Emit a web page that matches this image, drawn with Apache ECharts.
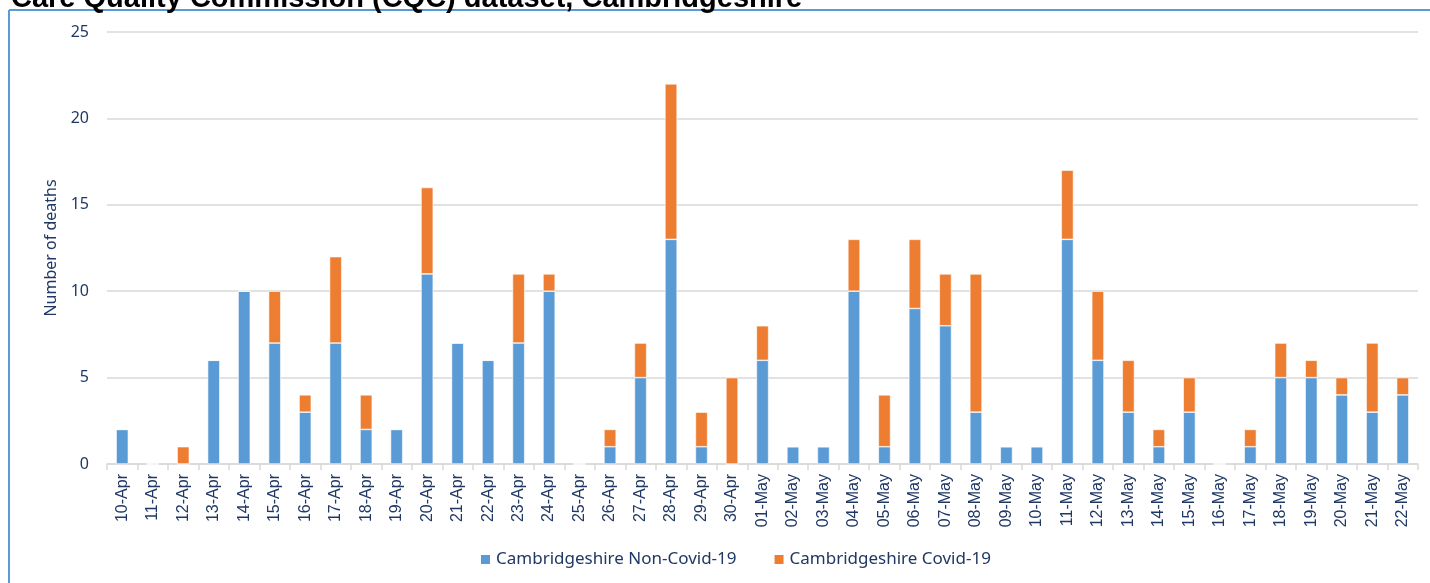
<!DOCTYPE html>
<html>
<head>
<meta charset="utf-8">
<script src="https://cdn.jsdelivr.net/npm/echarts@6/dist/echarts.min.js"></script>
<style>
  html, body { margin: 0; padding: 0; background: #fff; }
  #chart { width: 1430px; height: 583px; }
</style>
</head>
<body>
<div id="chart"></div>
<script>
// dates on the x axis
const days = [
    '10-Apr', '11-Apr', '12-Apr', '13-Apr', '14-Apr', '15-Apr', '16-Apr', '17-Apr', '18-Apr', '19-Apr',
    '20-Apr', '21-Apr', '22-Apr', '23-Apr', '24-Apr', '25-Apr', '26-Apr', '27-Apr', '28-Apr', '29-Apr',
    '30-Apr', '01-May', '02-May', '03-May', '04-May', '05-May', '06-May', '07-May', '08-May', '09-May',
    '10-May', '11-May', '12-May', '13-May', '14-May', '15-May', '16-May', '17-May', '18-May', '19-May',
    '20-May', '21-May', '22-May'
];

const nonCovid = [
    2, 0, 0, 6, 10, 7, 3, 7, 2, 2,
    11, 7, 6, 7, 10, 0, 1, 5, 13, 1,
    0, 6, 1, 1, 10, 1, 9, 8, 3, 1,
    1, 13, 6, 3, 1, 3, 0, 1, 5, 5,
    4, 3, 4
];

const covid = [
    0, 0, 1, 0, 0, 3, 1, 5, 2, 0,
    5, 0, 0, 4, 1, 0, 1, 2, 9, 2,
    5, 2, 0, 0, 3, 3, 4, 3, 8, 0,
    0, 4, 4, 3, 1, 2, 0, 1, 2, 1,
    1, 4, 1
];

const seriesNames = ['Cambridgeshire Non-Covid-19', 'Cambridgeshire Covid-19'];
const navy = '#1F3864';

let myChart = echarts.init(document.getElementById('chart'));
myChart.setOption({
    animation: false,
    title: {
        text: 'Care Quality Commission (CQC) dataset, Cambridgeshire',
        left: 6,
        top: -21,
        textStyle: { fontFamily: 'Liberation Sans', fontWeight: 'bold', fontSize: 29, color: '#000' }
    },
    graphic: [
        { type: 'line', shape: { x1: 9, y1: 10, x2: 1430, y2: 10 }, style: { stroke: '#5B9BD5', lineWidth: 2 } },
        { type: 'line', shape: { x1: 9, y1: 10, x2: 9, y2: 583 }, style: { stroke: '#5B9BD5', lineWidth: 2 } }
    ],
    grid: { left: 107, right: 12, top: 32, bottom: 119 },
    legend: {
        data: seriesNames,
        bottom: 10,
        left: 474,
        itemWidth: 11,
        itemHeight: 11,
        itemGap: 36,
        icon: 'rect',
        textStyle: { fontFamily: 'Noto Sans', fontSize: 17, color: navy }
    },
    xAxis: {
        type: 'category',
        data: days,
        axisLine: { lineStyle: { color: '#D9D9D9', width: 1.5 } },
        axisTick: { show: true, length: 6, lineStyle: { color: '#D9D9D9', width: 1.5 } },
        axisLabel: {
            rotate: 90,
            interval: 0,
            margin: 10,
            fontFamily: 'Liberation Sans',
            fontSize: 16,
            color: navy
        }
    },
    yAxis: {
        type: 'value',
        min: 0,
        max: 25,
        interval: 5,
        name: 'Number of deaths',
        nameLocation: 'middle',
        nameGap: 48,
        nameTextStyle: { fontFamily: 'Noto Sans', fontSize: 16, color: navy },
        axisLine: { show: false },
        axisTick: { show: false },
        axisLabel: { margin: 18, fontFamily: 'Noto Sans', fontSize: 16, color: navy },
        splitLine: { lineStyle: { color: '#D9D9D9', width: 1.5 } }
    },
    series: [
        {
            name: seriesNames[0],
            type: 'bar',
            stack: 'deaths',
            barWidth: '40%',
            data: nonCovid,
            itemStyle: { color: '#5B9BD5', borderColor: '#fff', borderWidth: 0.6 }
        },
        {
            name: seriesNames[1],
            type: 'bar',
            stack: 'deaths',
            barWidth: '40%',
            data: covid,
            itemStyle: { color: '#ED7D31', borderColor: '#fff', borderWidth: 0.6 }
        }
    ]
});
</script>
</body>
</html>
